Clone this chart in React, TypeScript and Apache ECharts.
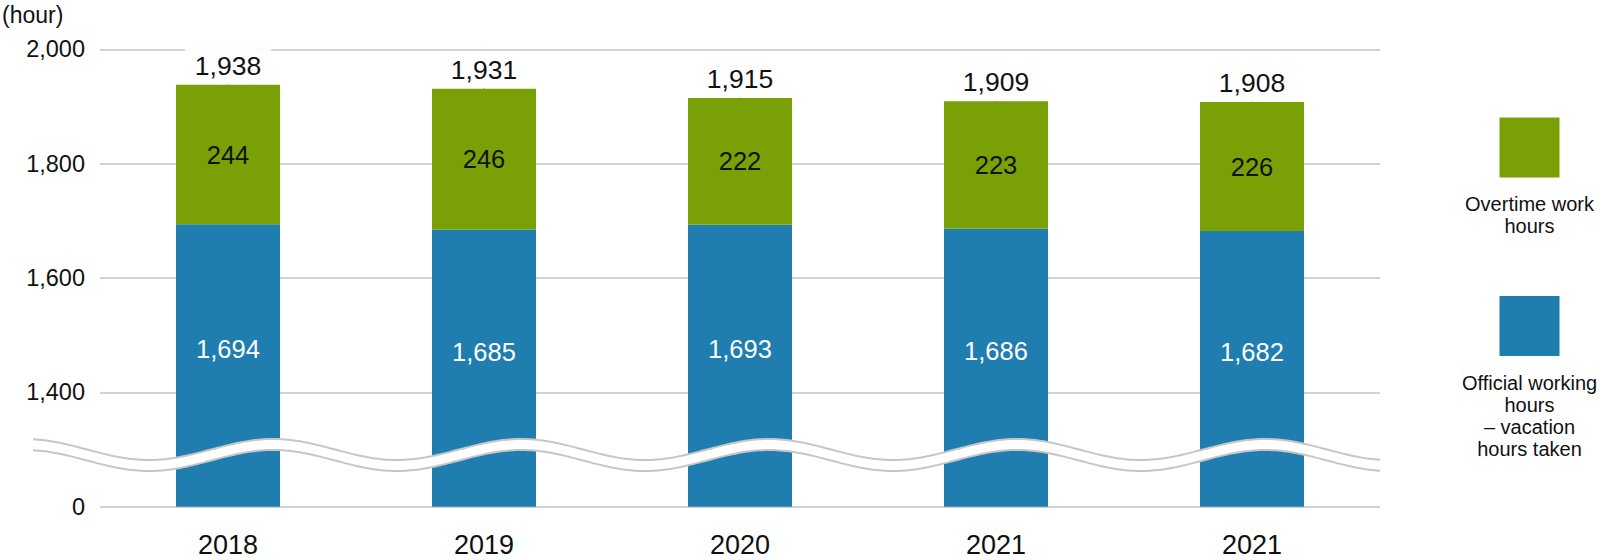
import React, { useEffect, useRef } from "react";
import * as echarts from "echarts";

const categories = ["2018", "2019", "2020", "2021", "2021"];
const officialHours = [1694, 1685, 1693, 1686, 1682];
const overtimeHours = [244, 246, 222, 223, 226];
const yAxisMin = 1200;
const yAxisMax = 2000;
const yAxisStep = 200;
const legendOvertime = "Overtime work\nhours";
const legendOfficial = "Official working\nhours\n– vacation\nhours taken";
const unitLabel = "(hour)";

const FONT = "'Liberation Sans', Arial, sans-serif";
const GREEN = "#79a106";
const BLUE = "#1f7db0";
const TEXT = "#111111";

function wavePoints(offset: number) {
  const pts: number[][] = [];
  for (let x = 33; x <= 1381; x += 3) {
    const y = 449.5 - 10.5 * Math.cos((2 * Math.PI * (x - 273)) / 248) + offset;
    pts.push([x, y]);
  }
  return pts;
}

export default function App() {
  const ref = useRef<HTMLDivElement>(null);

  useEffect(() => {
    document.body.style.margin = "0";
    if (!ref.current) return;
    const chart = echarts.init(ref.current, null, { renderer: "svg" });
    const totals = officialHours.map((v, i) => v + overtimeHours[i]);
    const upper = wavePoints(0);
    const lower = wavePoints(11);
    const fillPts = upper.concat(lower.slice().reverse());

    chart.setOption({
      animation: false,
      grid: { left: 100, right: 220, top: 49.3, bottom: 53.3 },
      xAxis: {
        type: "category",
        data: categories,
        axisLine: { show: false },
        axisTick: { show: false },
        axisLabel: { fontSize: 27, color: TEXT, fontFamily: FONT, margin: 25 },
      },
      yAxis: {
        type: "value",
        min: yAxisMin,
        max: yAxisMax,
        interval: yAxisStep,
        axisLine: { show: false },
        axisTick: { show: false },
        splitLine: { lineStyle: { color: "#d2d2d2", width: 2 } },
        axisLabel: {
          fontSize: 23.5,
          color: TEXT,
          fontFamily: FONT,
          margin: 15,
          padding: [7, 0, 0, 0],
          formatter: (v: number) => (v === yAxisMin ? "0" : v.toLocaleString("en-US")),
        },
      },
      series: [
        {
          type: "bar",
          name: "Official working hours – vacation hours taken",
          stack: "total",
          data: officialHours,
          barWidth: 104,
          itemStyle: { color: BLUE },
          label: {
            show: true,
            position: "inside",
            offset: [0, -16.5],
            color: "#ffffff",
            fontSize: 25.5,
            fontFamily: FONT,
            formatter: (p: any) => Number(p.value).toLocaleString("en-US"),
          },
        },
        {
          type: "bar",
          name: "Overtime work hours",
          stack: "total",
          data: overtimeHours,
          barWidth: 104,
          itemStyle: { color: GREEN },
          label: {
            show: true,
            position: "inside",
            color: TEXT,
            fontSize: 25.5,
            fontFamily: FONT,
          },
        },
        {
          type: "scatter",
          name: "total",
          data: totals,
          symbol: "rect",
          symbolSize: 1,
          itemStyle: { color: GREEN, opacity: 1 },
          z: 5,
          label: {
            show: true,
            position: "top",
            distance: 1.5,
            color: "#111111",
            opacity: 1,
            fontSize: 26.5,
            fontFamily: FONT,
            lineHeight: 30,
            backgroundColor: "#ffffff",
            padding: [3.6, 10, 2, 10],
            formatter: (p: any) => Number(p.value).toLocaleString("en-US"),
          },
        },
      ],
      graphic: [
        {
          type: "polygon",
          z: 100,
          shape: { points: fillPts },
          style: { fill: "#ffffff", stroke: "none" },
        },
        {
          type: "polyline",
          z: 101,
          shape: { points: upper },
          style: { stroke: "#c6c6c6", lineWidth: 2, fill: "none" },
        },
        {
          type: "polyline",
          z: 101,
          shape: { points: lower },
          style: { stroke: "#c6c6c6", lineWidth: 2, fill: "none" },
        },
        {
          type: "text",
          z: 101,
          x: 2,
          y: 15,
          style: {
            text: unitLabel,
            fontSize: 23,
            fontFamily: FONT,
            fill: TEXT,
            verticalAlign: "middle",
            align: "left",
          },
        },
        {
          type: "rect",
          z: 101,
          shape: { x: 1499.5, y: 117.5, width: 60, height: 60 },
          style: { fill: GREEN },
        },
        {
          type: "text",
          z: 101,
          x: 1529.5,
          y: 193,
          style: {
            text: legendOvertime,
            fontSize: 20,
            lineHeight: 22,
            fontFamily: FONT,
            fill: TEXT,
            align: "center",
            verticalAlign: "top",
          },
        },
        {
          type: "rect",
          z: 101,
          shape: { x: 1499.5, y: 296, width: 60, height: 60 },
          style: { fill: BLUE },
        },
        {
          type: "text",
          z: 101,
          x: 1529.5,
          y: 372,
          style: {
            text: legendOfficial,
            fontSize: 20,
            lineHeight: 22,
            fontFamily: FONT,
            fill: TEXT,
            align: "center",
            verticalAlign: "top",
          },
        },
      ],
    });
    return () => chart.dispose();
  }, []);

  return <div ref={ref} style={{ width: 1600, height: 560 }} />;
}
